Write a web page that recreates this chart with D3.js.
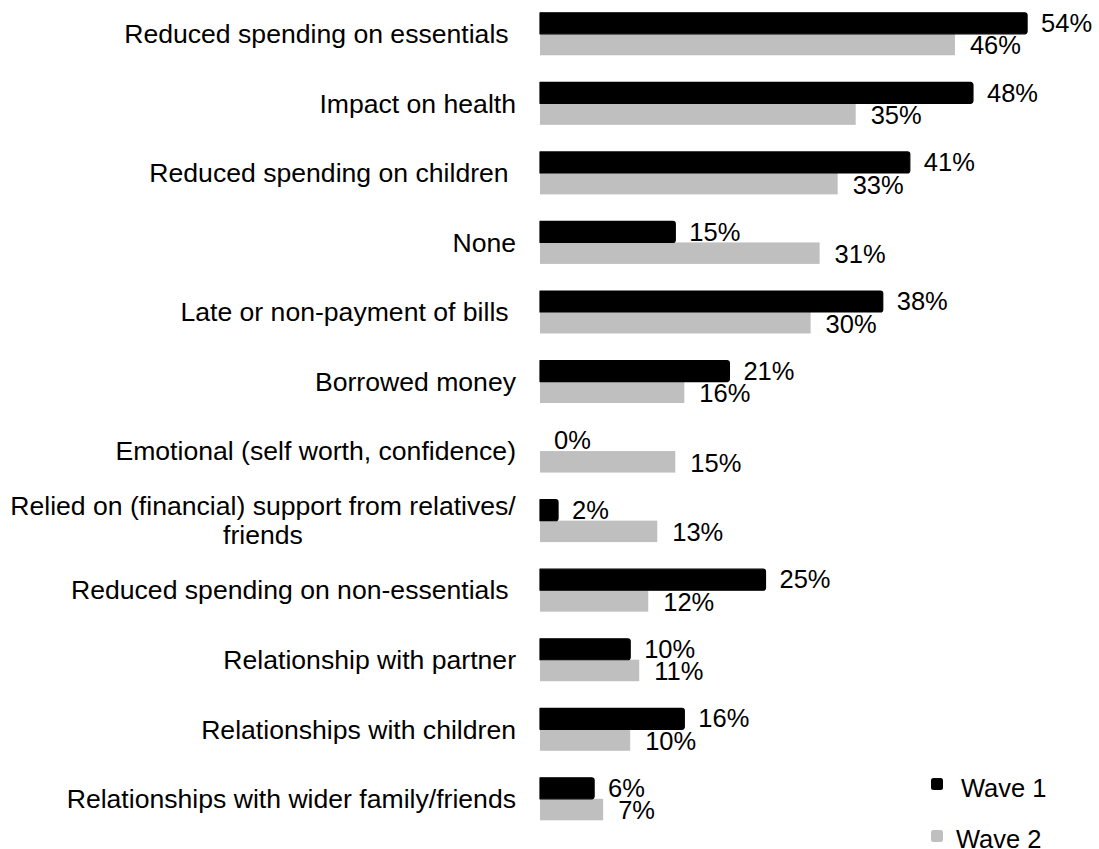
<!DOCTYPE html>
<html>
<head>
<meta charset="utf-8">
<script src="https://cdn.jsdelivr.net/npm/d3@7"></script>
<style>
  html, body { margin: 0; padding: 0; background: #fff; }
  svg { display: block; }
  text { font-family: "Liberation Sans", Arial, sans-serif; fill: #000; white-space: pre; }
</style>
</head>
<body>
<svg id="chart" width="1099" height="849"></svg>
<script>
// Impacts reported in each wave (percent of respondents)
const categories = [
  "Reduced spending on essentials ",
  "Impact on health",
  "Reduced spending on children ",
  "None",
  "Late or non-payment of bills ",
  "Borrowed money",
  "Emotional (self worth, confidence)",
  "Relied on (financial) support from relatives/|friends",
  "Reduced spending on non-essentials ",
  "Relationship with partner",
  "Relationships with children",
  "Relationships with wider family/friends"
];
const wave1 = [54, 48, 41, 15, 38, 21, 0, 2, 25, 10, 16, 6];
const wave2 = [46, 35, 33, 31, 30, 16, 15, 13, 12, 11, 10, 7];
const seriesNames = ["Wave 1", "Wave 2"];
const seriesColors = ["#000000", "#bfbfbf"];

const svg = d3.select("#chart");
svg.append("rect").attr("width", 1099).attr("height", 849).attr("fill", "#fff");

const x = d3.scaleLinear().domain([0, 60]).range([540, 1081.2]);
const y = d3.scaleBand().domain(categories).range([-1, 833.6])
  .paddingInner(0.382).paddingOuter(0.191);
const ySub = d3.scaleBand().domain(seriesNames).range([0, y.bandwidth()]);

const rows = categories.map((c, i) => ({ cat: c, values: [wave1[i], wave2[i]] }));

const g = svg.append("g");

// category labels (right-aligned, wrapped label centred on its lines)
const catFont = 26.6;
rows.forEach(r => {
  const cy = y(r.cat) + y.bandwidth() / 2;
  const lines = r.cat.split("|");
  if (lines.length === 1) {
    g.append("text")
      .attr("x", 516).attr("y", cy).attr("dy", "0.35em")
      .attr("text-anchor", "end").attr("font-size", catFont)
      .text(lines[0]);
  } else {
    const lh = 29;
    lines.forEach((ln, k) => {
      g.append("text")
        .attr("x", 263).attr("y", cy + (k - (lines.length - 1) / 2) * lh)
        .attr("dy", "0.35em")
        .attr("text-anchor", "middle").attr("font-size", catFont)
        .text(ln);
    });
  }
});

// bars
function roundedRight(x0, y0, w, h, r) {
  const rr = Math.min(r, w / 2, h / 2);
  const p = d3.path();
  p.moveTo(x0, y0);
  p.lineTo(x0 + w - rr, y0);
  p.arcTo(x0 + w, y0, x0 + w, y0 + rr, rr);
  p.lineTo(x0 + w, y0 + h - rr);
  p.arcTo(x0 + w, y0 + h, x0 + w - rr, y0 + h, rr);
  p.lineTo(x0, y0 + h);
  p.closePath();
  return p.toString();
}

rows.forEach(r => {
  const top = y(r.cat);
  // Wave 2 (grey) drawn first so the Wave 1 outline sits over it
  [1, 0].forEach(s => {
    const v = r.values[s];
    const by = top + ySub(seriesNames[s]);
    const bh = ySub.bandwidth();
    const w = x(v) - x(0);
    if (w > 0) {
      if (s === 0) {
        g.append("path")
          .attr("d", roundedRight(x(0), by + 0.5, w, bh - 0.5, 2.5))
          .attr("fill", seriesColors[s])
          .attr("stroke", seriesColors[s]).attr("stroke-width", 1.2)
          .attr("stroke-linejoin", "round");
      } else {
        g.append("rect")
          .attr("x", x(0)).attr("y", by).attr("width", w).attr("height", bh)
          .attr("fill", seriesColors[s]);
      }
    }
  });
  // value labels
  [0, 1].forEach(s => {
    const v = r.values[s];
    const by = top + ySub(seriesNames[s]) + ySub.bandwidth() / 2;
    g.append("text")
      .attr("x", x(v) + (s === 0 ? 14 : 15))
      .attr("y", by + (s === 0 ? 0 : 1))
      .attr("dy", "0.35em")
      .attr("font-size", 25.5)
      .text(v + "%");
  });
});

// legend
const legend = svg.append("g");
const legendItems = [
  { name: seriesNames[0], color: seriesColors[0], sy: 778, tx: 961, ty: 788 },
  { name: seriesNames[1], color: seriesColors[1], sy: 830, tx: 956, ty: 839 }
];
legendItems.forEach(d => {
  legend.append("rect")
    .attr("x", 931).attr("y", d.sy).attr("width", 12).attr("height", 12)
    .attr("rx", 2.5).attr("fill", d.color);
  legend.append("text")
    .attr("x", d.tx).attr("y", d.ty).attr("dy", "0.35em")
    .attr("font-size", 25.5)
    .text(d.name);
});
</script>
</body>
</html>
